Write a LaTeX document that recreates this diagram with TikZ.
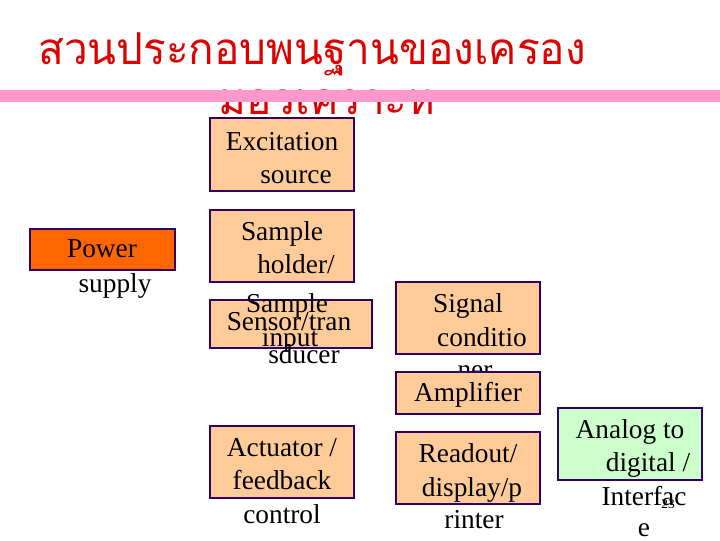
\documentclass[tikz,border=0pt]{standalone}
\usepackage{fontspec}
\setmainfont{Liberation Serif}
\newfontfamily\thaifont[Script=Thai]{Loma}
\definecolor{peach}{HTML}{FFCC99}
\definecolor{orng}{HTML}{FF6600}
\definecolor{lgreen}{HTML}{CCFFCC}
\definecolor{navy}{HTML}{330066}
\definecolor{pinkbar}{HTML}{FF99CC}
\definecolor{titlered}{HTML}{DD0000}
\begin{document}
\begin{tikzpicture}[x=0.75pt,y=-0.75pt,
  box/.style={draw=navy,line width=1pt},
  t/.style={anchor=base,inner sep=0pt,font=\fontsize{20.5}{22}\selectfont}]
\useasboundingbox (0,0) rectangle (720,540);
\node[anchor=base,text=titlered,font=\thaifont\fontsize{33}{36}\selectfont,inner sep=0pt,xscale=0.96] (title1) at (312,64) {สวนประกอบพนฐานของเครอง};
\node[anchor=base,text=titlered,font=\thaifont\fontsize{33}{36}\selectfont,inner sep=0pt,xscale=0.96] (title2) at (327,114) {มอวเคราะห};
\fill[pinkbar] (0,90) rectangle (720,102);
% Excitation
\draw[box,fill=peach] (210,118) rectangle (354,191);
\node[t] (e1) at (282,150) {Excitation};
\node[t] (e2) at (296,183) {source};
% Power
\draw[box,fill=orng] (30,229) rectangle (175,270);
\node[t] (p1) at (102,257) {Power};
\node[t] (p2) at (115,292) {supply};
% Sample holder
\draw[box,fill=peach] (210,210) rectangle (354,282);
\node[t] (s1) at (282,240) {Sample};
\node[t] (s2) at (296,273) {holder/};
% Sensor
\draw[box,fill=peach] (210,300) rectangle (372,348);
\node[t] (n1) at (289,330) {Sensor/tran};
\node[t] (n2) at (304,363) {sducer};
\node[t] (s3) at (287,312) {Sample};
\node[t] (s4) at (290,346) {input};
% Signal
\draw[box,fill=peach] (396,282) rectangle (540,354);
\node[t] (g1) at (468,312) {Signal};
\node[t] (g2) at (482,346) {conditio};
\node[t] (g3) at (475,378) {ner};
% Amplifier
\draw[box,fill=peach] (396,372) rectangle (540,414);
\node[t] (a1) at (468,401) {Amplifier};
% Actuator
\draw[box,fill=peach] (210,426) rectangle (354,498);
\node[t] (c1) at (282,456) {Actuator /};
\node[t] (c2) at (282,489) {feedback};
\node[t] (c3) at (282,523) {control};
% Readout
\draw[box,fill=peach] (396,432) rectangle (540,504);
\node[t] (r1) at (468,462) {Readout/};
\node[t] (r2) at (472,496) {display/p};
\node[t] (r3) at (474,528) {rinter};
% Analog
\draw[box,fill=lgreen] (558,408) rectangle (702,480);
\node[t] (d1) at (630,438) {Analog to};
\node[t] (d2) at (648,471) {digital /};
\node[t] (d3) at (644,505) {Interfac};
\node[t] (d4) at (644,536) {e};
\node[anchor=base,inner sep=0pt,font=\fontsize{10}{12}\selectfont] (pg) at (668,508) {23};
\end{tikzpicture}
\end{document}
